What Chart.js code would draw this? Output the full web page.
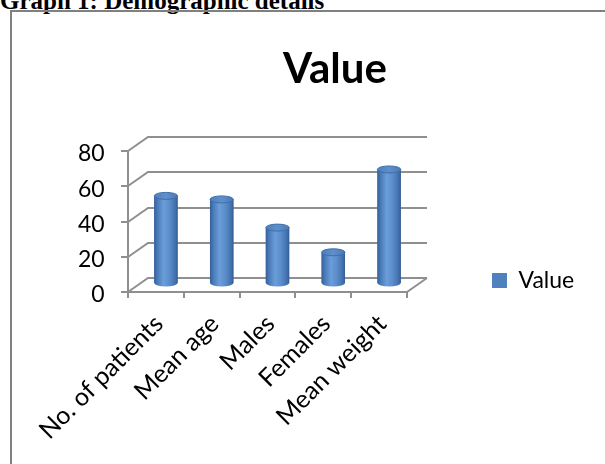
<!DOCTYPE html>
<html>
<head>
<meta charset="utf-8">
<script src="https://cdn.jsdelivr.net/npm/chart.js@4.4.1/dist/chart.umd.min.js"></script>
<style>
  html, body { margin: 0; padding: 0; background: #fff; overflow: hidden; width: 605px; height: 464px; }
  #caption { position: absolute; left: 0; top: -13px; line-height: 25px; font: bold 25px "Liberation Serif", "Times New Roman", serif; white-space: nowrap; }
  #frame { position: absolute; left: 10px; top: 10px; width: 700px; height: 500px; border: 2px solid #808080; }
  #myCanvas { position: absolute; left: 0; top: 0; }
</style>
</head>
<body>
<div id="caption">Graph 1: Demographic details</div>
<div id="frame"></div>
<canvas id="myCanvas" width="670" height="464"></canvas>
<script>
var categories = ['No. of patients', 'Mean age', 'Males', 'Females', 'Mean weight'];
var values = [50, 48, 32, 18, 65];
var yTicks = [0, 20, 40, 60, 80];

var gridColor = '#8f8f8f';
var DX = 20, DY = -14;   // depth of the back wall
var BX = 10, BY = -8;    // bars sit half way back

// back wall lines + cylinders drawn from the bar elements
var wall3d = {
  id: 'wall3d',
  beforeDatasetsDraw: function(chart) {
    var ctx = chart.ctx, a = chart.chartArea, y = chart.scales.y;
    ctx.save();
    ctx.strokeStyle = gridColor;
    ctx.lineWidth = 2;
    ctx.beginPath();
    yTicks.forEach(function(v) {
      var py = Math.round(y.getPixelForValue(v));
      ctx.moveTo(a.left, py);
      ctx.lineTo(a.left + DX, py + DY);
      ctx.lineTo(a.right + DX, py + DY);
    });
    ctx.moveTo(a.right, a.bottom);
    ctx.lineTo(a.right + DX, a.bottom + DY);
    ctx.stroke();
    ctx.restore();
    ctx.save();
    ctx.translate(BX, BY);
  },
  afterDatasetsDraw: function(chart) {
    var ctx = chart.ctx;
    chart.getDatasetMeta(0).data.forEach(function(bar) {
      var p = bar.getProps(['x', 'y', 'base', 'width'], true);
      var rx = p.width / 2, ry = 3.5;
      var l = p.x - rx, r = p.x + rx;
      var g = ctx.createLinearGradient(l, 0, r, 0);
      g.addColorStop(0, '#35609a');
      g.addColorStop(0.15, '#4a7cba');
      g.addColorStop(0.4, '#6b9dd9');
      g.addColorStop(0.65, '#5b8dcb');
      g.addColorStop(0.88, '#4474b0');
      g.addColorStop(1, '#335d92');
      ctx.beginPath();
      ctx.moveTo(l, p.y);
      ctx.lineTo(l, p.base);
      ctx.ellipse(p.x, p.base, rx, ry, 0, Math.PI, 0, true);
      ctx.lineTo(r, p.y);
      ctx.closePath();
      ctx.fillStyle = g;
      ctx.fill();
      var tg = ctx.createLinearGradient(l, 0, r, 0);
      tg.addColorStop(0, '#4d7fbd');
      tg.addColorStop(0.5, '#5f90cc');
      tg.addColorStop(1, '#4a7ab6');
      ctx.beginPath();
      ctx.ellipse(p.x, p.y, rx, ry, 0, 0, Math.PI * 2);
      ctx.fillStyle = tg;
      ctx.fill();
      ctx.strokeStyle = '#3f6ea8';
      ctx.lineWidth = 1;
      ctx.stroke();
    });
    ctx.restore();
  }
};

var font23 = { family: 'Lato', size: 23 };

var chart = new Chart(document.getElementById('myCanvas'), {
  type: 'bar',
  data: {
    labels: categories,
    datasets: [{
      label: 'Value',
      data: values,
      backgroundColor: '#4f81bd',
      borderWidth: 0,
      barPercentage: 0.42,
      categoryPercentage: 1,
      clip: false
    }]
  },
  options: {
    responsive: false,
    animation: false,
    events: [],
    layout: { padding: { left: 87, right: 87, top: 0, bottom: 0 } },
    plugins: {
      title: {
        display: true,
        text: 'Value',
        color: '#000',
        font: { family: 'Lato', size: 42, weight: 'bold' },
        padding: { top: 44, bottom: 56.6 }
      },
      legend: {
        position: 'right',
        align: 'end',
        fullSize: false,
        maxWidth: 91,
        labels: { boxWidth: 15, boxHeight: 15, color: '#000', font: font23, padding: 0 }
      },
      tooltip: { enabled: false }
    },
    scales: {
      x: {
        ticks: { color: '#000', font: { family: 'Lato', size: 25 }, minRotation: 45, maxRotation: 45, autoSkip: false, padding: 11, labelOffset: 3 },
        grid: { drawOnChartArea: false, tickLength: 6, color: gridColor, lineWidth: 2, offset: true },
        border: { color: gridColor, width: 2 },
        afterFit: function(s) { s.height = 172; }
      },
      y: {
        min: 0,
        max: 80,
        afterBuildTicks: function(s) { s.ticks = yTicks.map(function(v) { return { value: v }; }); },
        ticks: { color: '#000', font: font23, mirror: true, crossAlign: 'far', padding: -50, labelOffset: 3 },
        grid: { drawOnChartArea: false, tickLength: 7, color: gridColor, lineWidth: 2 },
        border: { color: gridColor, width: 2 },
        afterFit: function(s) { s.width = 41; }
      },
      y2: {
        position: 'right',
        display: true,
        ticks: { display: false },
        grid: { display: false, drawTicks: false },
        border: { display: false },
        afterFit: function(s) { s.width = 85; }
      }
    }
  },
  plugins: [wall3d]
});
</script>
</body>
</html>
